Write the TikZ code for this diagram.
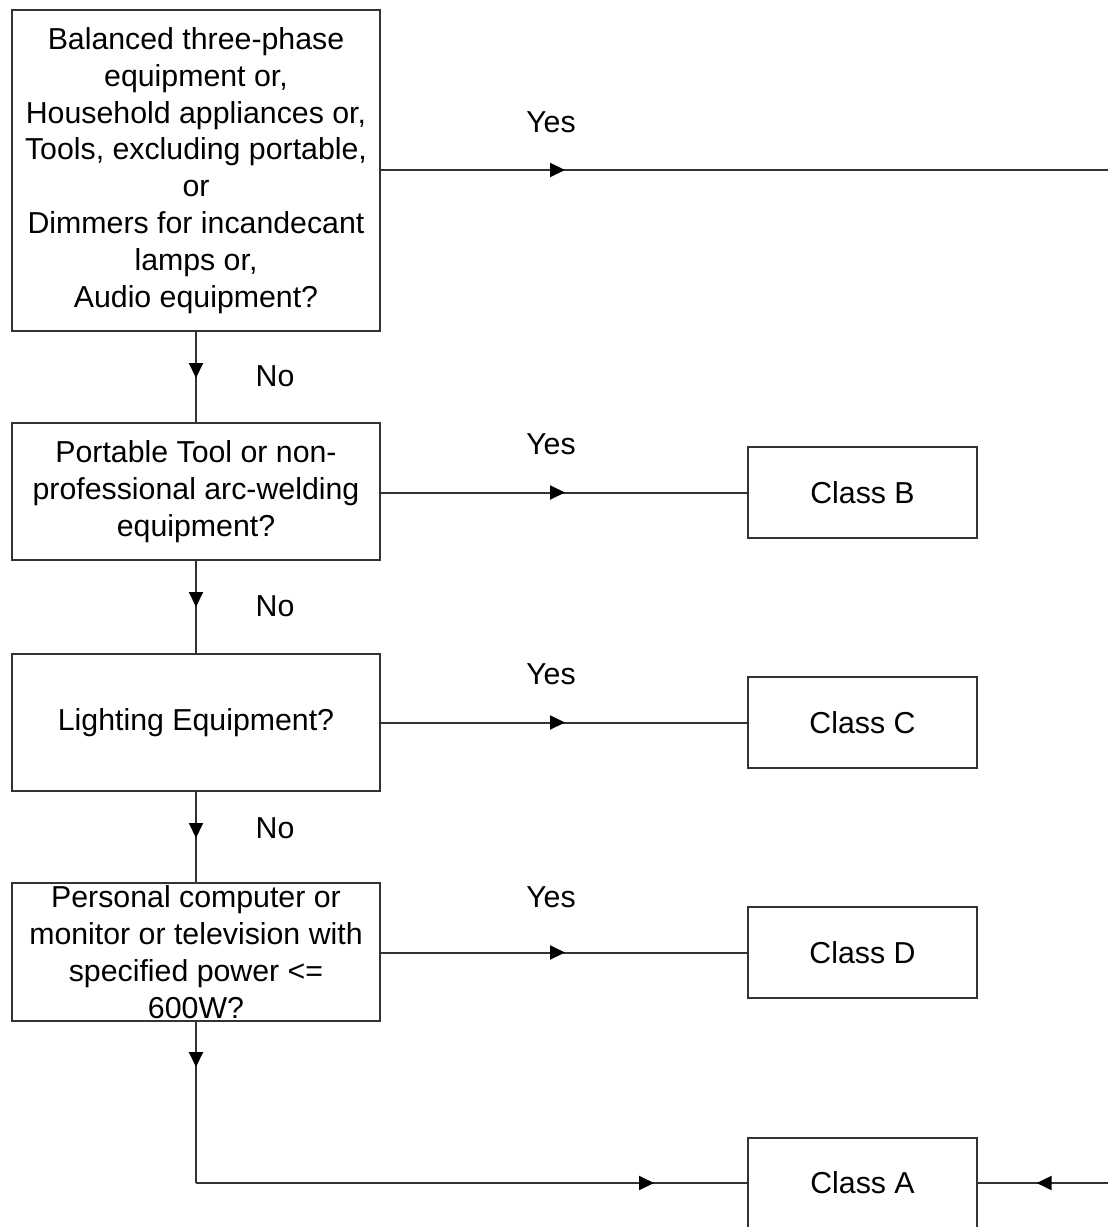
\documentclass[tikz,border=0pt]{standalone}
\usepackage{fontspec}
\setmainfont{Liberation Sans}
\usetikzlibrary{arrows.meta,decorations.markings}
\begin{document}
\begin{tikzpicture}[x=1pt,y=-1pt,
  line/.style={draw=black!80,line width=2pt},
  box/.style={line,rectangle,align=center,inner sep=0pt,
    font=\fontsize{30.3}{36.8}\selectfont},
  qbox/.style={box,minimum width=368pt},
  cbox/.style={box,minimum width=229pt,minimum height=91pt},
  lbl/.style={font=\fontsize{30.3}{36.8}\selectfont,inner sep=0pt},
  tipat/.style={postaction={decorate,decoration={markings,
    mark=at position #1 with {\arrow[black]{Triangle[length=15pt,width=14pt]}}}}}
]
\clip (0,0) rectangle (1108,1227);
\fill[white] (0,0) rectangle (1108,1227);

% decision boxes
\node[qbox,minimum height=321pt] (q1) at (196,170.5)
  {Balanced three-phase\\equipment or,\\Household appliances or,\\Tools, excluding portable,\\or\\Dimmers for incandecant\\lamps or,\\Audio equipment?};
\node[qbox,minimum height=137pt] (q2) at (196,491.5)
  {Portable Tool or non-\\professional arc-welding\\equipment?};
\node[qbox,minimum height=137pt] (q3) at (196,722.5) {Lighting Equipment?};
\node[qbox,minimum height=138pt] (q4) at (196,952)
  {Personal computer or\\monitor or television with\\specified power <=\\600W?};

% class boxes
\node[cbox] (cb) at (862.5,492.5) {Class B};
\node[cbox] (cc) at (862.5,722.5) {Class C};
\node[cbox] (cd) at (862.5,952.5) {Class D};
\node[cbox] (ca) at (862.5,1183) {Class A};

% routing corners
\coordinate (tr) at (1108.6,170);
\coordinate (br) at (1108.6,1183);
\coordinate (bl) at (196,1183);

% Yes branches
\draw[line,tipat=184pt] (q1.east |- tr) -- (tr);
\draw[line] (tr) -- (br);
\draw[line,tipat=72pt] (br) -- (ca.east);
\draw[line,tipat=184pt] (q2.east |- cb) -- (cb.west);
\draw[line,tipat=184pt] (q3.east |- cc) -- (cc.west);
\draw[line,tipat=184pt] (q4.east |- cd) -- (cd.west);

% No branches
\draw[line,tipat=46pt] (q1.south) -- (q2.north);
\draw[line,tipat=46pt] (q2.south) -- (q3.north);
\draw[line,tipat=46pt] (q3.south) -- (q4.north);
\draw[line,tipat=45pt] (q4.south) -- (bl);
\draw[line,tipat=458pt] (bl) -- (ca.west);

% labels
\node[lbl] (y1) at (551,122) {Yes};
\node[lbl] (y2) at (551,444) {Yes};
\node[lbl] (y3) at (551,674) {Yes};
\node[lbl] (y4) at (551,897) {Yes};
\node[lbl] (n1) at (275,376) {No};
\node[lbl] (n2) at (275,606) {No};
\node[lbl] (n3) at (275,828) {No};
\end{tikzpicture}
\end{document}
